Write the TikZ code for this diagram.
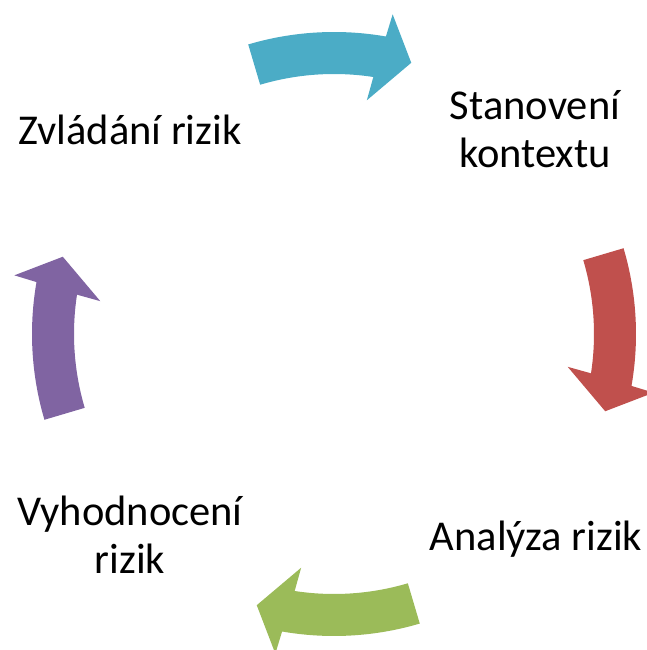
\documentclass[tikz,border=0pt]{standalone}
\usepackage{fontspec}
\setmainfont{Carlito}
\usepackage{tikz}
\usetikzlibrary{calc}
\definecolor{arrteal}{HTML}{4BACC6}
\definecolor{arrred}{HTML}{C0504D}
\definecolor{arrgreen}{HTML}{9BBB59}
\definecolor{arrpurple}{HTML}{8064A2}

\begin{document}
\begin{tikzpicture}[x=1pt, y=1pt,
    phase/.style={font=\fontsize{42.5}{48}\selectfont, align=center, inner sep=0pt, anchor=base}]
    \useasboundingbox (-334,-316) rectangle (312,334);

    \node[phase] (zvladani) at (-204,189) {Zvládání rizik};
    \node[phase] (kontext) at (201,166) {Stanovení\\kontextu};
    \node[phase] (analyza) at (202,-216) {Analýza rizik};
    \node[phase] (vyhodnoceni) at (-204,-239) {Vyhodnocení\\rizik};

    \foreach \k/\col in {0/arrteal, 1/arrred, 2/arrgreen, 3/arrpurple}
        \fill[\col, rotate=-90*\k] (106.5:302) arc[start angle=106.5, end angle=80.1, radius=302]
            -- (79.6:325) -- (74.1:282) -- (82:236) -- (81.3:260)
            arc[start angle=81.3, end angle=106.5, radius=260] -- cycle;
\end{tikzpicture}
\end{document}
